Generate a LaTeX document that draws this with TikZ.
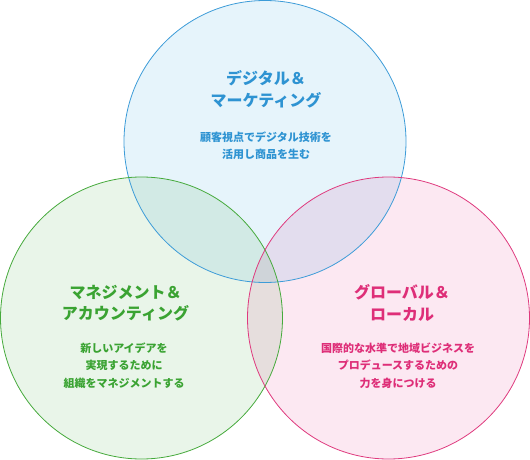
\documentclass[tikz,border=0pt]{standalone}
\usepackage{fontspec}
\setmainfont{Noto Sans CJK JP}
\definecolor{bstroke}{HTML}{3D9CD8}
\definecolor{bfill}{HTML}{E6F4FB}
\definecolor{gstroke}{HTML}{46AA3C}
\definecolor{gfill}{HTML}{E9F5E9}
\definecolor{pstroke}{HTML}{DF3A7E}
\definecolor{pfill}{HTML}{FCE8F2}
\definecolor{btext}{HTML}{2E93D2}
\definecolor{gtext}{HTML}{3AA332}
\definecolor{ptext}{HTML}{DE2E78}
\tikzset{
  ttl/.style={align=center, font=\fontsize{16}{21.5}\selectfont\bfseries},
  bdy/.style={align=center, font=\fontsize{11}{17.5}\selectfont\bfseries},
}
\begin{document}
\begin{tikzpicture}[x=1pt,y=-1pt]
\useasboundingbox (0,0) rectangle (530,460);
\coordinate (ct) at (265,141.5);
\coordinate (cl) at (141.5,318);
\coordinate (cr) at (388.5,318);
\begin{scope}[blend mode=multiply]
  \fill[bfill] (ct) circle[radius=141];
  \fill[gfill] (cl) circle[radius=141];
  \fill[pfill] (cr) circle[radius=141];
\end{scope}
\draw[bstroke, line width=0.8pt] (ct) circle[radius=141];
\draw[gstroke, line width=0.8pt] (cl) circle[radius=141];
\draw[pstroke, line width=0.8pt] (cr) circle[radius=141];
\node[ttl, text=btext] (t1) at (266,89.5) {デジタル＆\\マーケティング};
\node[bdy, text=btext] (b1) at (266,145.5) {顧客視点でデジタル技術を\\活用し商品を生む};
\node[ttl, text=gtext] (t2) at (125.5,303) {マネジメント＆\\アカウンティング};
\node[bdy, text=gtext] (b2) at (124,365.5) {新しいアイデアを\\実現するために\\組織をマネジメントする};
\node[ttl, text=ptext] (t3) at (402,303) {グローバル＆\\ローカル};
\node[bdy, text=ptext] (b3) at (398,365.5) {国際的な水準で地域ビジネスを\\プロデュースするための\\力を身につける};
\end{tikzpicture}
\end{document}
